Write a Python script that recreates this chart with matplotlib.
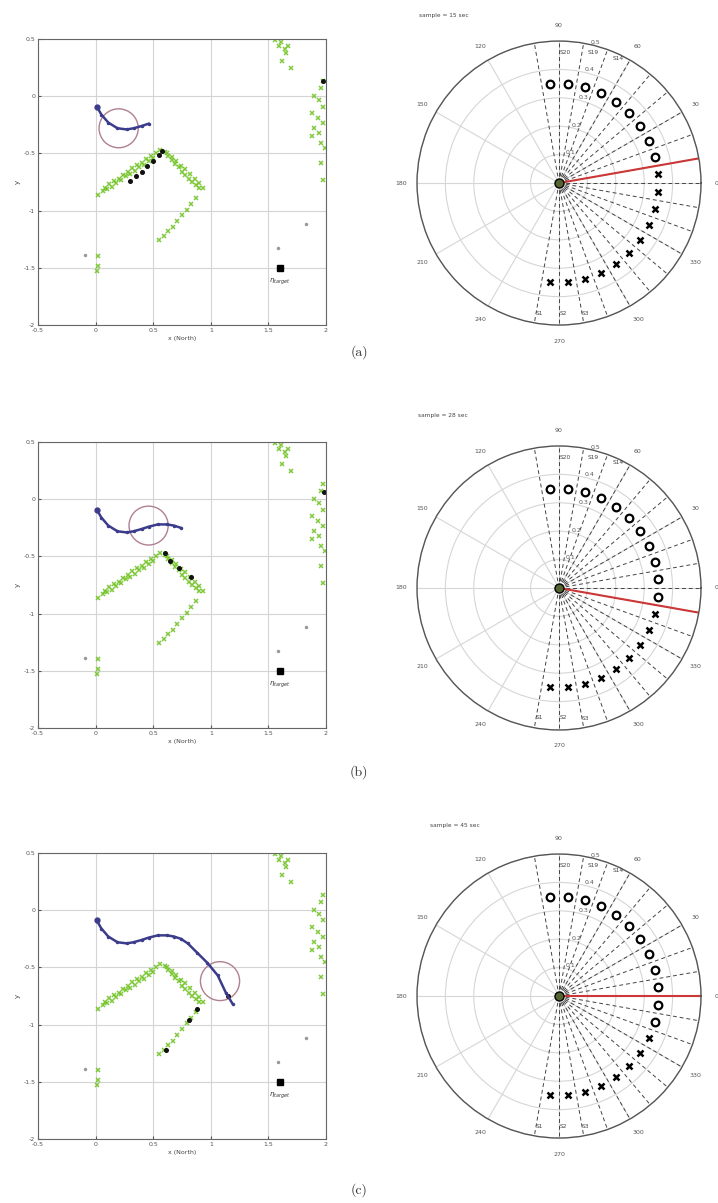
import numpy as np
import matplotlib.pyplot as plt
from matplotlib.patches import Circle

# three snapshots of the run
sample_sec = [15, 28, 45]
captions = ["(a)", "(b)", "(c)"]

# robot path (x North, y), how many points are drawn at each sample
path_x = [0.01, 0.05, 0.11, 0.19, 0.27, 0.33, 0.40, 0.46, 0.54, 0.62, 0.68, 0.74, 0.80, 0.88, 0.97, 1.06, 1.13, 1.19]
path_y = [-0.09, -0.16, -0.23, -0.28, -0.29, -0.28, -0.26, -0.24, -0.22, -0.22, -0.23, -0.25, -0.29, -0.37, -0.46, -0.57, -0.72, -0.82]
path_shown = [8, 12, 18]

# robot footprint centre at each sample
robot_x = [0.20, 0.46, 1.08]
robot_y = [-0.28, -0.23, -0.62]
robot_radius = 0.17

# accumulated sonar readings (green)
map_x = [0.08, 0.12, 0.16, 0.20, 0.24, 0.28, 0.32, 0.36, 0.40, 0.44, 0.48, 0.52, 0.56,
         0.06, 0.10, 0.14, 0.18, 0.22, 0.26, 0.30, 0.34, 0.38, 0.42, 0.46, 0.50,
         0.60, 0.63, 0.66, 0.69, 0.72, 0.75, 0.78, 0.81, 0.84, 0.87, 0.90,
         0.62, 0.66, 0.70, 0.74, 0.78, 0.82, 0.86, 0.90, 0.93,
         0.87, 0.83, 0.79, 0.75, 0.71, 0.67, 0.63, 0.59, 0.55,
         1.56, 1.59, 1.61, 1.64, 1.65, 1.67, 1.62, 1.70,
         1.97, 1.96, 1.90, 1.94, 1.97, 1.88, 1.93, 1.97, 1.90, 1.94, 1.88, 1.96, 1.99, 1.96, 1.97,
         0.02, 0.02, 0.02, 0.01]
map_y = [-0.80, -0.77, -0.74, -0.72, -0.69, -0.66, -0.63, -0.60, -0.58, -0.55, -0.52, -0.50, -0.47,
         -0.83, -0.81, -0.79, -0.76, -0.73, -0.70, -0.68, -0.65, -0.62, -0.60, -0.57, -0.54,
         -0.49, -0.52, -0.56, -0.59, -0.62, -0.66, -0.69, -0.72, -0.75, -0.78, -0.80,
         -0.50, -0.53, -0.57, -0.61, -0.64, -0.68, -0.72, -0.76, -0.80,
         -0.89, -0.94, -0.99, -1.04, -1.09, -1.14, -1.18, -1.22, -1.26,
         0.49, 0.44, 0.47, 0.41, 0.38, 0.44, 0.31, 0.25,
         0.13, 0.07, 0.00, -0.03, -0.09, -0.15, -0.19, -0.23, -0.28, -0.32, -0.35, -0.41, -0.45, -0.58, -0.73,
         -0.86, -1.40, -1.48, -1.53]

# single stray readings (grey)
stray_x = [-0.09, 1.58, 1.83]
stray_y = [-1.39, -1.33, -1.12]

# readings taken at the current sample (black)
hits_a_x = [0.30, 0.35, 0.40, 0.45, 0.50, 0.55, 0.58, 1.97]
hits_a_y = [-0.74, -0.70, -0.66, -0.61, -0.57, -0.51, -0.48, 0.13]
hits_b_x = [0.60, 0.65, 0.72, 0.83, 1.98]
hits_b_y = [-0.47, -0.54, -0.60, -0.68, 0.06]
hits_c_x = [0.88, 0.81, 0.61, 1.15]
hits_c_y = [-0.86, -0.96, -1.22, -0.75]
hits_x = [hits_a_x, hits_b_x, hits_c_x]
hits_y = [hits_a_y, hits_b_y, hits_c_y]

target_x, target_y = 1.60, -1.50

# sonar ring, sensor S1 .. S20 bearings (deg) and sector edges
sensor_deg = [-95, -85, -75, -65, -55, -45, -35, -25, -15, -5, 5, 15, 25, 35, 45, 55, 65, 75, 85, 95]
sector_deg = [-100, -90, -80, -70, -60, -50, -40, -30, -20, -10, 0, 10, 20, 30, 40, 50, 60, 70, 80, 90, 100]
free_count = [9, 11, 12]   # sensors from S20 downwards that see free space
sensor_range = 0.35
heading_deg = [10, -10, 0]

fig = plt.figure(figsize=(7.18, 12.03), dpi=100)

cart_rows = [0.7298, 0.3948, 0.0532]
polar_rows = [0.7298, 0.3932, 0.0540]
title_y = [15, 415, 825]
title_xp = [444, 443, 455]
caption_y = [352, 772, 1190]

for i in range(3):
    # --- map view ---
    ax = fig.add_axes([38 / 718, cart_rows[i], 288 / 718, 286 / 1203])
    ax.set_xlim(-0.5, 2)
    ax.set_ylim(-2, 0.5)
    ax.set_xticks([-0.5, 0, 0.5, 1, 1.5, 2])
    ax.set_xticklabels(["-0.5", "0", "0.5", "1", "1.5", "2"])
    ax.set_yticks([-2, -1.5, -1, -0.5, 0, 0.5])
    ax.set_yticklabels(["-2", "-1.5", "-1", "-0.5", "0", "0.5"])
    ax.grid(True, color="#d4d4d4", lw=0.8)
    ax.set_axisbelow(True)
    ax.tick_params(direction="in", labelsize=4.5, length=2, colors="#555555", pad=2)
    for sp in ax.spines.values():
        sp.set_color("#666666")
        sp.set_linewidth(0.8)
    ax.set_xlabel("x (North)", fontsize=4.5, color="#444444", labelpad=2)
    ax.set_ylabel("y", fontsize=5, color="#444444", labelpad=2)

    ax.plot(map_x, map_y, "x", color="#72c425", ms=3.4, mew=1.1, alpha=0.9)
    ax.plot(stray_x, stray_y, ".", color="#999999", ms=3)
    ax.plot(hits_x[i], hits_y[i], "o", color="#111111", ms=2.6)

    n = path_shown[i]
    ax.plot(path_x[:n], path_y[:n], "-", color="#3c3c8c", lw=1.8, marker=".", ms=3)
    ax.plot(path_x[0], path_y[0], "o", color="#3c3c8c", ms=3.5)
    ax.add_patch(Circle((robot_x[i], robot_y[i]), robot_radius, fill=False,
                        ec="#b08090", lw=1.0))

    ax.plot(target_x, target_y, "s", color="k", ms=5)
    ax.text(target_x, target_y - 0.12, r"$\eta_{target}$", fontsize=5,
            ha="center", va="center", color="#333333")

    # --- sonar view ---
    pa = fig.add_axes([417 / 718, polar_rows[i], 284 / 718, 284 / 1203], projection="polar")
    pa.set_ylim(0, 0.5)
    pa.set_rticks([0.1, 0.2, 0.3, 0.4, 0.5])
    pa.set_yticklabels(["0.1", "0.2", "0.3", "0.4", "0.5"])
    pa.set_rlabel_position(77)
    pa.set_thetagrids(range(0, 360, 30), [str(a) for a in range(0, 360, 30)])
    pa.grid(True, color="#d6d6d6", lw=0.8)
    pa.tick_params(labelsize=4.5, colors="#555555", pad=1)
    pa.spines["polar"].set_color("#555555")
    pa.spines["polar"].set_linewidth(1.0)

    for s in sector_deg:
        pa.plot([np.radians(s)] * 2, [0, 0.5], ls=(0, (4, 3)), color="#444444", lw=0.7)

    k = free_count[i]
    free_t = np.radians(sensor_deg[::-1][:k])
    hit_t = np.radians(sensor_deg[::-1][k:])
    pa.plot(free_t, [sensor_range] * len(free_t), "o", mfc="none", mec="k", mew=1.6, ms=5.5)
    pa.plot(hit_t, [sensor_range] * len(hit_t), "x", color="k", mew=1.8, ms=4)

    pa.plot([np.radians(heading_deg[i])] * 2, [0, 0.5], color="#cc3838", lw=1.5)
    pa.plot(0, 0, "o", ms=6.5, mfc="#55652f", mec="k", mew=1.0)

    for lab, t, r in [("S20", 87.4, 0.46), ("S19", 75.4, 0.476), ("S14", 64.7, 0.487),
                      ("S1", -98.7, 0.463), ("S2", -88.2, 0.458), ("S3", -78.7, 0.467)]:
        pa.text(np.radians(t), r, lab, fontsize=4.2, color="#444444", ha="center", va="center")

    fig.text(title_xp[i] / 718, 1 - title_y[i] / 1203, f"sample = {sample_sec[i]} sec",
             fontsize=4.2, color="#444444", ha="center", va="center")
    fig.text(359 / 718, 1 - caption_y[i] / 1203, captions[i], fontsize=10,
             family="cmr10", ha="center", va="center", color="#333333")

fig.savefig("out.png", dpi=100)
